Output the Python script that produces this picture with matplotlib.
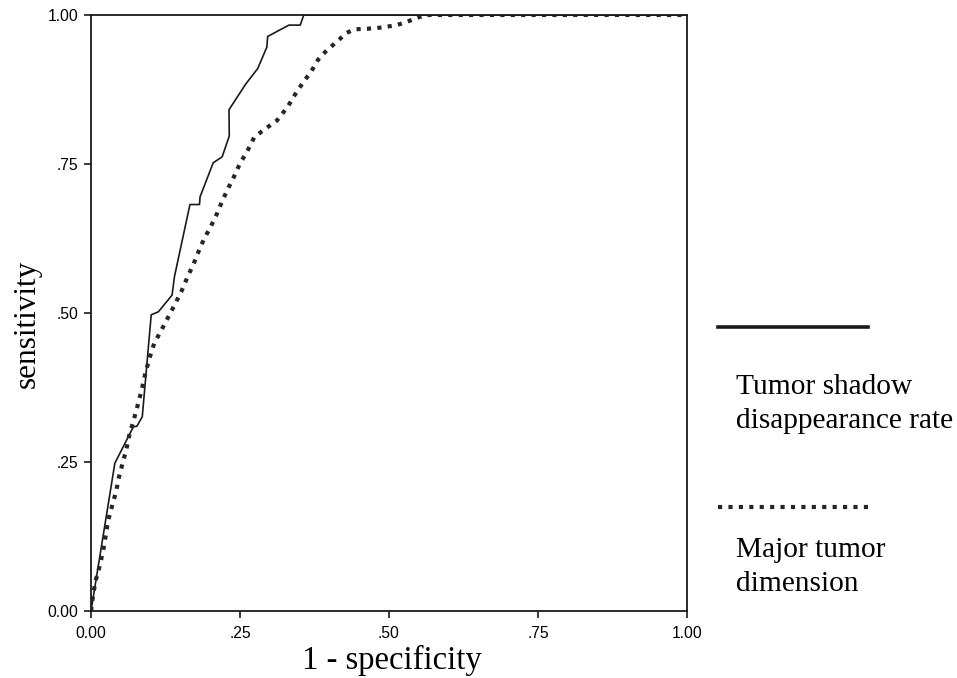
import matplotlib
matplotlib.use("Agg")
import matplotlib.pyplot as plt
from matplotlib.lines import Line2D

# ROC curve points
fpr_shadow = [0.0, 0.040, 0.071, 0.077, 0.086, 0.101, 0.113, 0.136, 0.140,
              0.166, 0.182, 0.183, 0.205, 0.220, 0.232, 0.2315, 0.2595,
              0.2796, 0.295, 0.2964, 0.332, 0.351, 0.357, 1.0]
tpr_shadow = [0.0, 0.248, 0.309, 0.310, 0.326, 0.497, 0.502, 0.530, 0.561,
              0.682, 0.682, 0.695, 0.752, 0.762, 0.797, 0.841, 0.884,
              0.910, 0.946, 0.964, 0.983, 0.983, 1.0, 1.0]

fpr_dim = [0.0, 0.004, 0.008, 0.015, 0.021, 0.029, 0.035, 0.042, 0.047,
           0.053, 0.059, 0.064, 0.071, 0.078, 0.085, 0.091, 0.098, 0.106,
           0.119, 0.130, 0.141, 0.152, 0.163, 0.172, 0.182, 0.190, 0.201,
           0.212, 0.219, 0.229, 0.240, 0.250, 0.262, 0.274, 0.291, 0.312,
           0.330, 0.342, 0.356, 0.370, 0.381, 0.393, 0.412, 0.429, 0.442,
           0.465, 0.488, 0.513, 0.531, 0.555, 0.560, 1.0]
tpr_dim = [0.0, 0.030, 0.052, 0.077, 0.105, 0.153, 0.175, 0.200, 0.225,
           0.248, 0.270, 0.294, 0.318, 0.344, 0.371, 0.398, 0.424, 0.449,
           0.473, 0.494, 0.515, 0.537, 0.563, 0.582, 0.607, 0.625, 0.645,
           0.668, 0.685, 0.707, 0.729, 0.751, 0.771, 0.795, 0.808, 0.823,
           0.846, 0.866, 0.887, 0.906, 0.925, 0.938, 0.955, 0.970, 0.976,
           0.977, 0.979, 0.983, 0.989, 0.998, 1.0, 1.0]

ticks = [0.0, 0.25, 0.5, 0.75, 1.0]
tick_labels = ["0.00", ".25", ".50", ".75", "1.00"]
legend_labels = ["Tumor shadow\ndisappearance rate", "Major tumor\ndimension"]

tick_font = ["Liberation Sans", "DejaVu Sans"]
serif_font = ["Liberation Serif", "DejaVu Serif"]
dotted = (0, (1.0, 1.5))

fig = plt.figure(figsize=(9.57, 6.78), dpi=100)
ax = fig.add_axes([0.0951, 0.0988, 0.6228, 0.8791])

ax.plot(fpr_shadow, tpr_shadow, color="#1a1a1a", lw=1.2)
ax.plot(fpr_dim, tpr_dim, color="#262626", lw=3.0, linestyle=dotted,
        dash_capstyle="butt")

ax.set_xlim(0, 1)
ax.set_ylim(0, 1)
ax.set_xticks(ticks)
ax.set_yticks(ticks)
ax.set_xticklabels(tick_labels, family=tick_font, fontsize=11.3)
ax.set_yticklabels(tick_labels, family=tick_font, fontsize=11.3)
ax.tick_params(direction="out", length=5, width=1.2, color="#1a1a1a", pad=4)
ax.tick_params(axis="x", pad=6)
for s in ax.spines.values():
    s.set_linewidth(1.3)
    s.set_color("#1a1a1a")

ax.set_xlabel("1 - specificity", family=serif_font, fontsize=23.5, va="center")
ax.xaxis.set_label_coords(0.505, -0.083)
ax.set_ylabel("sensitivity", family=serif_font, fontsize=22.5, va="center")
ax.yaxis.set_label_coords(-0.107, 0.481)

# custom legend at the right: sample line above its label
fig.add_artist(Line2D([718 / 957, 868 / 957], [1 - 327 / 678, 1 - 327 / 678],
                      color="#1a1a1a", lw=2.6))
fig.add_artist(Line2D([718 / 957, 868 / 957], [1 - 507 / 678, 1 - 507 / 678],
                      color="#262626", lw=3.0, linestyle=dotted,
                      dash_capstyle="butt"))
fig.text(736 / 957, 1 - 404 / 678, legend_labels[0], family=serif_font,
         fontsize=21.2, va="center", ha="left", linespacing=1.4)
fig.text(736 / 957, 1 - 567 / 678, legend_labels[1], family=serif_font,
         fontsize=21.2, va="center", ha="left", linespacing=1.4)

fig.savefig("out.png", dpi=100, facecolor="white")
